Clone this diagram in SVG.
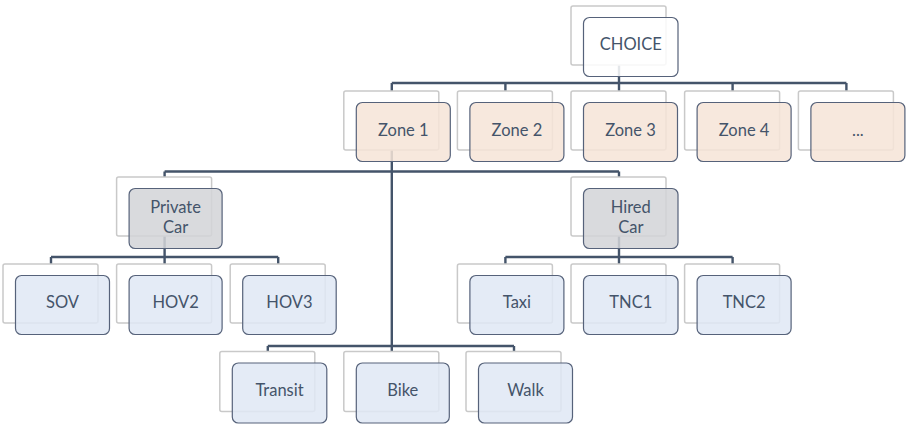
<svg xmlns="http://www.w3.org/2000/svg" width="906" height="433" viewBox="0 0 906 433">
<style>
.bk{fill:#ffffff;stroke:#c9c9c9;stroke-width:1.5}
.fr{stroke:#56627a;stroke-width:1.2;fill-opacity:0.86}
.w{fill:#ffffff}
.z{fill:#f6e4d7}
.g{fill:#d3d4d7}
.b{fill:#e0e8f5}
.t{font-family:Lato,"Open Sans","Liberation Sans",sans-serif;font-size:16.5px;fill:#44546a;text-anchor:middle}
.c{fill:none;stroke:#44546a;stroke-width:2.4}
</style>
<rect width="906" height="433" fill="#ffffff"/>
<g id="connectors">
<path class="c" d="M619,65V83M391.8,83H846.4M391.8,83V91M505.4,83V91M619,83V91M732.6,83V91M846.4,83V91"/>
<path class="c" d="M391.8,150V346M164.6,171.5H619M164.6,171.5V177M619,171.5V177"/>
<path class="c" d="M164.6,236V257M51,257H278.2M51,257V264M164.6,257V264M278.2,257V264"/>
<path class="c" d="M619,236V257M505.4,257H732.6M505.4,257V264M619,257V264M732.6,257V264"/>
<path class="c" d="M267.8,346H514M267.8,346V351.5M391.8,346V351.5M514,346V351.5"/>
</g>
<g id="choice"><rect class="bk" x="571" y="6" width="95" height="59" rx="2"/><rect class="fr w" x="583.5" y="17.5" width="94.5" height="59" rx="6"/><text class="t" x="630.8" y="50.2">CHOICE</text></g>
<g id="zone1"><rect class="bk" x="343.8" y="91" width="95" height="59" rx="2"/><rect class="fr z" x="356.3" y="102.5" width="94" height="59" rx="6"/><text class="t" x="403.3" y="135.5">Zone 1</text></g>
<g id="zone2"><rect class="bk" x="457.4" y="91" width="95" height="59" rx="2"/><rect class="fr z" x="469.9" y="102.5" width="94" height="59" rx="6"/><text class="t" x="516.9" y="135.5">Zone 2</text></g>
<g id="zone3"><rect class="bk" x="571" y="91" width="95" height="59" rx="2"/><rect class="fr z" x="583.5" y="102.5" width="94" height="59" rx="6"/><text class="t" x="630.5" y="135.5">Zone 3</text></g>
<g id="zone4"><rect class="bk" x="684.6" y="91" width="95" height="59" rx="2"/><rect class="fr z" x="697.1" y="102.5" width="94" height="59" rx="6"/><text class="t" x="744.1" y="135.5">Zone 4</text></g>
<g id="zone-more"><rect class="bk" x="798.4" y="91" width="95" height="59" rx="2"/><rect class="fr z" x="810.9" y="102.5" width="94" height="59" rx="6"/><text class="t" x="857.9" y="135.5">...</text></g>
<g id="private-car"><rect class="bk" x="116.6" y="177" width="95" height="59" rx="2"/><rect class="fr g" x="129.1" y="188.5" width="93" height="60" rx="6"/><text class="t" x="175.6" y="212.8">Private</text><text class="t" x="175.6" y="232.7">Car</text></g>
<g id="hired-car"><rect class="bk" x="571" y="177" width="95" height="59" rx="2"/><rect class="fr g" x="583.5" y="188.5" width="94.5" height="60" rx="6"/><text class="t" x="630.8" y="212.8">Hired</text><text class="t" x="630.8" y="232.7">Car</text></g>
<g id="sov"><rect class="bk" x="3" y="264" width="95" height="59" rx="2"/><rect class="fr b" x="15.5" y="275.5" width="94" height="59" rx="6"/><text class="t" x="62.5" y="307.5">SOV</text></g>
<g id="hov2"><rect class="bk" x="116.6" y="264" width="95" height="59" rx="2"/><rect class="fr b" x="129.1" y="275.5" width="93" height="59" rx="6"/><text class="t" x="175.6" y="307.5">HOV2</text></g>
<g id="hov3"><rect class="bk" x="230.2" y="264" width="95" height="59" rx="2"/><rect class="fr b" x="242.7" y="275.5" width="93.5" height="59" rx="6"/><text class="t" x="289.4" y="307.5">HOV3</text></g>
<g id="taxi"><rect class="bk" x="457.4" y="264" width="95" height="59" rx="2"/><rect class="fr b" x="469.9" y="275.5" width="94" height="59" rx="6"/><text class="t" x="516.9" y="307.5">Taxi</text></g>
<g id="tnc1"><rect class="bk" x="571" y="264" width="95" height="59" rx="2"/><rect class="fr b" x="583.5" y="275.5" width="94.5" height="59" rx="6"/><text class="t" x="630.8" y="307.5">TNC1</text></g>
<g id="tnc2"><rect class="bk" x="684.6" y="264" width="95" height="59" rx="2"/><rect class="fr b" x="697.1" y="275.5" width="94" height="59" rx="6"/><text class="t" x="744.1" y="307.5">TNC2</text></g>
<g id="transit"><rect class="bk" x="219.8" y="351.5" width="95" height="60" rx="2"/><rect class="fr b" x="232.3" y="363" width="94.5" height="60" rx="6"/><text class="t" x="279.5" y="396.3">Transit</text></g>
<g id="bike"><rect class="bk" x="343.8" y="351.5" width="95" height="60" rx="2"/><rect class="fr b" x="356.3" y="363" width="93" height="60" rx="6"/><text class="t" x="402.8" y="396.3">Bike</text></g>
<g id="walk"><rect class="bk" x="466" y="351.5" width="95" height="60" rx="2"/><rect class="fr b" x="478.5" y="363" width="94" height="60" rx="6"/><text class="t" x="525.5" y="396.3">Walk</text></g>
</svg>
